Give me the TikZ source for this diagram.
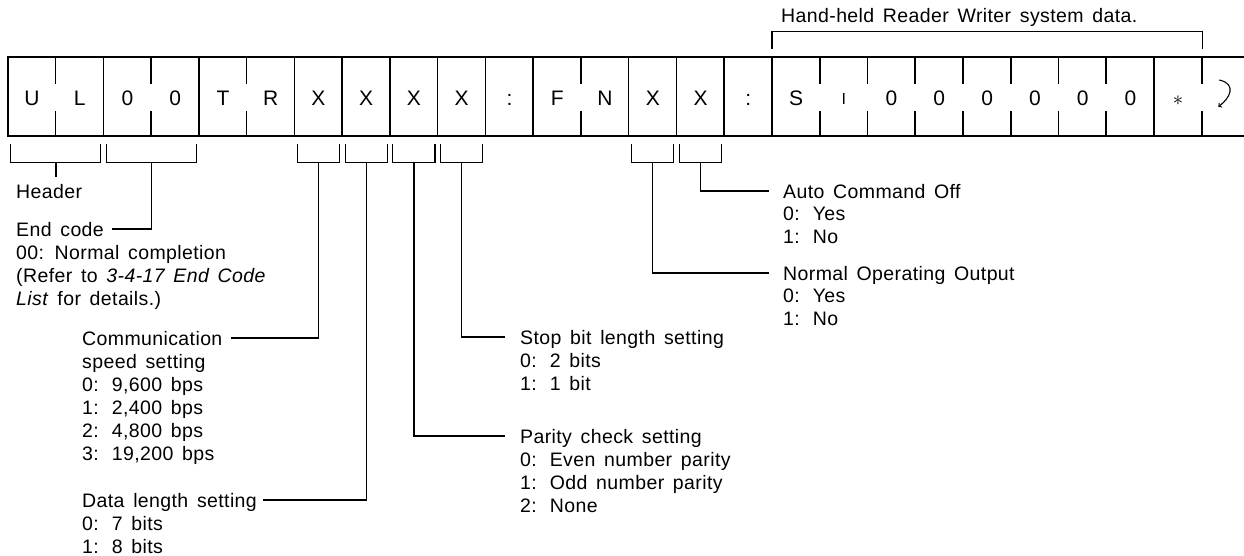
\documentclass[tikz,border=0pt]{standalone}
\usepackage{fontspec}
\setmainfont{Liberation Sans}[LetterSpace=2, WordSpace=1.5]
\newfontfamily\cellfont{Liberation Sans}
\usetikzlibrary{positioning}
\newcommand{\optgap}{\hspace{13pt}}

\begin{document}
\begin{tikzpicture}[x=1pt, y=-1pt, font=\fontsize{19.5}{23}\selectfont,
  cell/.style={minimum width=47.76pt, minimum height=79pt, inner sep=0pt,
    text height=19pt, text depth=0pt, font=\cellfont\fontsize{21}{24}\selectfont},
  ttl/.style={anchor=base west, inner sep=0pt, text height=14pt, text depth=0pt},
  opts/.style={anchor=north west, inner sep=0pt, align=left},
  frame/.style={line width=1.6pt},
  lead/.style={line width=1.1pt}]
  \useasboundingbox (0,0) rectangle (1244,556);

  % The command string, one cell per character (last one runs off the page).
  \foreach \ch [count=\i from 0] in {U,L,0,0,T,R,X,X,X,X,:,F,N,X,X,:,S,{\raisebox{1.6pt}{\fontsize{16}{16}\selectfont I}},0,0,0,0,0,0,$\ast$,{}}
    \node[cell] (c\i) at (31.88+47.76*\i, 96.5) {\ch};
  \coordinate (edge) at (1244,0);
  \draw[frame] (edge |- c0.north) -- (c0.north west) -- (c0.south west) -- (edge |- c0.south);
  % full dividers between fields, short ticks inside a field
  \foreach \k in {2,4,6,7,8,9,10,11,13,14,15,16,24}
    \draw[frame] (c\k.north west) -- (c\k.south west);
  \foreach \k in {1,3,5,12,17,18,19,20,21,22,23,25} {
    \draw[frame] (c\k.north west) -- ++(0,27);
    \draw[frame] (c\k.south west) -- ++(0,-25);
  }
  % carriage return mark
  \draw[lead, ->] ([xshift=-6.6pt,yshift=16.5pt]c25.center)
    .. controls +(18,4) and +(11.6,-8.2) .. ([xshift=-7.6pt,yshift=-10.2pt]c25.center);

  % Bracket over the system data.
  \draw[lead] ([yshift=8pt]c16.north west) -- ++(0,-17) -| ([yshift=8pt]c24.north east);
  \node[ttl] (hand) at (781,23) {Hand-held Reader Writer system data.};

  % Brackets under the fields.
  \foreach \a/\b in {0/1, 2/3, 6/6, 7/7, 8/8, 9/9, 13/13, 14/14}
    \draw[lead] ([xshift=3pt,yshift=-8pt]c\a.south west) -- ++(0,18)
      -| ([xshift=-3pt,yshift=-8pt]c\b.south east);
  \coordinate (hdS) at ([yshift=-26pt]c0.south east);
  \coordinate (ecS) at ([yshift=-26pt]c2.south east);
  \coordinate (spS) at ([yshift=-26pt]c6.south);
  \coordinate (dlS) at ([yshift=-26pt]c7.south);
  \coordinate (pcS) at ([yshift=-26pt]c8.south);
  \coordinate (sbS) at ([yshift=-26pt]c9.south);
  \coordinate (noS) at ([yshift=-26pt]c13.south);
  \coordinate (acS) at ([yshift=-26pt]c14.south);

  % Labels, left side.
  \node[ttl] (hd) at (16,198) {Header};
  \node[ttl] (ec) at (16,236) {End code};
  \node[below=9pt of ec.base west, opts] (ecO)
    {00: Normal completion\\(Refer to \textit{3-4-17 End Code}\\\textit{List} for details.)};
  \node[ttl] (sp) at (82,345) {Communication};
  \node[below=9pt of sp.base west, opts] (spO)
    {speed setting\\0:\optgap 9,600 bps\\1:\optgap 2,400 bps\\2:\optgap 4,800 bps\\3:\optgap 19,200 bps};
  \node[ttl] (dl) at (82,507) {Data length setting};
  \node[below=9pt of dl.base west, opts] (dlO) {0:\optgap 7 bits\\1:\optgap 8 bits};

  % Labels, right side.
  \node[ttl] (sb) at (520,344) {Stop bit length setting};
  \node[below=9pt of sb.base west, opts] (sbO) {0:\optgap 2 bits\\1:\optgap 1 bit};
  \node[ttl] (pc) at (520,443) {Parity check setting};
  \node[below=9pt of pc.base west, opts] (pcO)
    {0:\optgap Even number parity\\1:\optgap Odd number parity\\2:\optgap None};
  \node[ttl] (ac) at (783,198) {Auto Command Off};
  \node[below=9pt of ac.base west, opts] (acO) {0:\optgap Yes\\1:\optgap No};
  \node[ttl] (no) at (783,280) {Normal Operating Output};
  \node[below=9pt of no.base west, opts] (noO) {0:\optgap Yes\\1:\optgap No};

  % Leaders from the brackets to their labels.
  \draw[lead] (hdS) -- ([yshift=7pt]hdS |- hd.north);
  \draw[lead] (ecS) |- ([xshift=8pt]ec.east);
  \draw[lead] (spS) |- ([xshift=8pt]sp.east);
  \draw[lead] (dlS) |- ([xshift=6pt]dl.east);
  \draw[lead] (pcS) |- ([xshift=-15pt]pc.west);
  \draw[lead] (sbS) |- ([xshift=-15pt]sb.west);
  \draw[lead] (noS) |- ([xshift=-14pt]no.west);
  \draw[lead] (acS) |- ([xshift=-14pt]ac.west);
\end{tikzpicture}
\end{document}
